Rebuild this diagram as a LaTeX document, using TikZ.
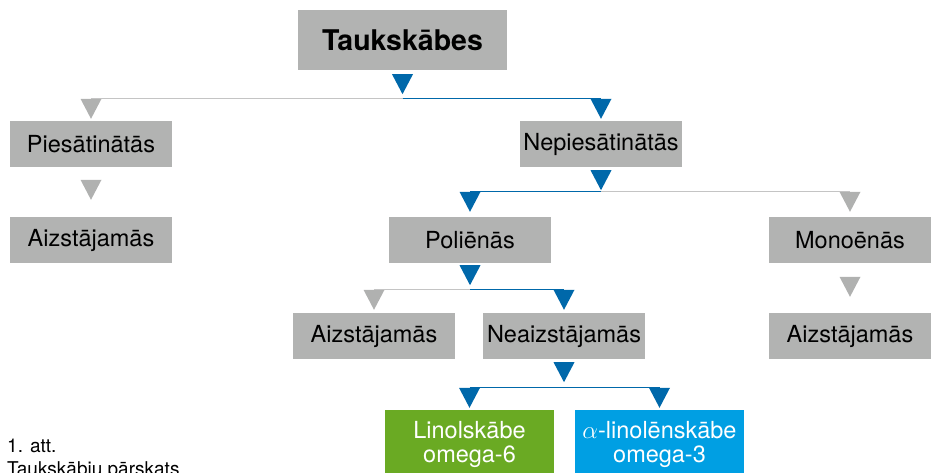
\documentclass[tikz,border=0pt]{standalone}
\usepackage{fontspec}
\setmainfont{TeX Gyre Heros}
\usetikzlibrary{shapes.geometric, positioning}
\definecolor{boxgrey}{RGB}{178,179,178}
\definecolor{arrgrey}{RGB}{176,177,176}
\definecolor{linegrey}{RGB}{196,196,196}
\definecolor{arrblue}{RGB}{0,104,170}
\definecolor{linogreen}{RGB}{106,170,35}
\definecolor{alinblue}{RGB}{0,159,227}
\tikzstyle{titlebox} = [rectangle, minimum width=209pt, minimum height=60pt, text centered, fill=boxgrey, font=\fontsize{28.5}{32}\selectfont\bfseries]
\tikzstyle{greybox} = [rectangle, minimum width=162pt, minimum height=46pt, text centered, fill=boxgrey, font=\fontsize{23.5}{26}\selectfont]
\tikzstyle{greenbox} = [rectangle, minimum width=169pt, minimum height=68pt, align=center, inner sep=2pt, text=white, fill=linogreen, font=\fontsize{23.5}{24}\selectfont]
\tikzstyle{cyanbox} = [greenbox, fill=alinblue]
\tikzstyle{tri} = [isosceles triangle, isosceles triangle stretches, shape border rotate=-90, minimum width=21pt, minimum height=20pt, inner sep=0pt, outer sep=0pt]
\tikzstyle{gtri} = [tri, fill=arrgrey]
\tikzstyle{btri} = [tri, fill=arrblue]
\tikzstyle{gline} = [draw=linegrey, line width=1pt]
\tikzstyle{bline} = [draw=arrblue, line width=1.2pt]

\begin{document}
\begin{tikzpicture}[node distance=96pt, x=1pt, y=1pt]
    \useasboundingbox (0,0) rectangle (931,-473);
    \node (fa) [titlebox] at (402.5,-40) {Taukskābes};
    \node (sat) [greybox, below of=fa, xshift=-311.5pt, yshift=-8pt] {Piesātinātās};
    \node (unsat) [greybox, below of=fa, xshift=198.5pt, yshift=-8pt] {Nepiesātinātās};
    \node (satsub) [greybox, below of=sat] {Aizstājamās};
    \node (poly) [greybox, below of=unsat, xshift=-131pt] {Poliēnās};
    \node (mono) [greybox, below of=unsat, xshift=249pt] {Monoēnās};
    \node (polysub) [greybox, below of=poly, xshift=-96pt] {Aizstājamās};
    \node (ess) [greybox, below of=poly, xshift=94pt] {Neaizstājamās};
    \node (monosub) [greybox, below of=mono] {Aizstājamās};
    \node (lino) [greenbox, below of=ess, xshift=-94.5pt, yshift=-12pt] {Linolskābe\\omega-6};
    \node (alin) [cyanbox, right of=lino, xshift=94pt] {$\alpha$-linolēnskābe\\omega-3};
    \node (cap) [anchor=base west, align=left, inner sep=0pt, font=\fontsize{19}{23}\selectfont] at (7,-475) {1. att.\\Taukskābiu pārskats};

    % triangles
    \node (t0) [btri, below=4pt of fa] {};
    \node (tsat) [gtri, above=2pt of sat] {};
    \node (tunsat) [btri, above=2pt of unsat] {};
    \node (tsatsub) [gtri, above=17pt of satsub] {};
    \node (t1) [btri, below=3pt of unsat] {};
    \node (tpoly) [btri, above=5pt of poly] {};
    \node (tmono) [gtri, above=5pt of mono] {};
    \node (tmonosub) [gtri, above=16pt of monosub] {};
    \node (t2) [btri, below=2pt of poly] {};
    \node (tpolysub) [gtri, above=3pt of polysub] {};
    \node (tess) [btri, above=3pt of ess] {};
    \node (t3) [btri, below=3pt of ess] {};
    \node (tlino) [btri, above=2pt of lino] {};
    \node (talin) [btri, above=2pt of alin] {};

    \draw [gline] (tsat.north) -- (tunsat.north);
    \draw [bline] (t0 |- tunsat.north) -- (tunsat.north);
    \draw [gline] (tpoly.north) -- (tpoly.north -| tmono);
    \draw [bline] (tpoly.north) -- (t1 |- tpoly.north);
    \draw [gline] (tpolysub.north) -- (tess.north);
    \draw [bline] (t2 |- tess.north) -- (tess.north);
    \draw [bline] (tlino.north) -- (talin.north);
\end{tikzpicture}
\end{document}
